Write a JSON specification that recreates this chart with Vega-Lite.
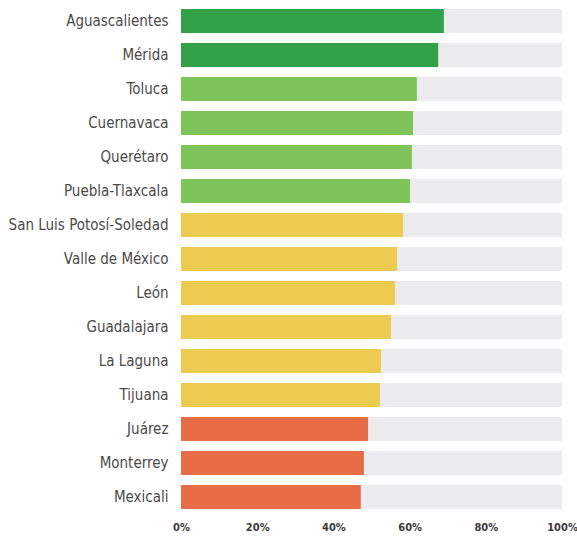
{
  "$schema": "https://vega.github.io/schema/vega-lite/v6.json",
  "width": 381,
  "height": 510,
  "autosize": {"type": "none"},
  "padding": {"left": 181, "top": 4, "right": 15, "bottom": 25},
  "background": "white",
  "config": {"view": {"stroke": null}},
  "data": {
    "values": [
      {"city": "Aguascalientes", "value": 0.690, "tier": "A"},
      {"city": "Mérida", "value": 0.675, "tier": "A"},
      {"city": "Toluca", "value": 0.619, "tier": "B"},
      {"city": "Cuernavaca", "value": 0.609, "tier": "B"},
      {"city": "Querétaro", "value": 0.606, "tier": "B"},
      {"city": "Puebla-Tlaxcala", "value": 0.601, "tier": "B"},
      {"city": "San Luis Potosí-Soledad", "value": 0.583, "tier": "C"},
      {"city": "Valle de México", "value": 0.567, "tier": "C"},
      {"city": "León", "value": 0.562, "tier": "C"},
      {"city": "Guadalajara", "value": 0.551, "tier": "C"},
      {"city": "La Laguna", "value": 0.525, "tier": "C"},
      {"city": "Tijuana", "value": 0.522, "tier": "C"},
      {"city": "Juárez", "value": 0.491, "tier": "D"},
      {"city": "Monterrey", "value": 0.480, "tier": "D"},
      {"city": "Mexicali", "value": 0.472, "tier": "D"}
    ]
  },
  "encoding": {
    "y": {
      "field": "city",
      "type": "nominal",
      "sort": null,
      "scale": {"paddingInner": 0.294, "paddingOuter": 0.147},
      "axis": {
        "title": null,
        "domain": false,
        "ticks": false,
        "labelPadding": 13,
        "labelFont": "DejaVu Sans Condensed, Liberation Sans Narrow, sans-serif",
        "labelFontSize": 15,
        "labelColor": "#4a4a4a",
        "labelLimit": 300
      }
    }
  },
  "layer": [
    {
      "mark": {"type": "bar", "color": "#ebebed"},
      "encoding": {
        "x": {
          "datum": 1,
          "type": "quantitative",
          "scale": {"domain": [0, 1]},
          "axis": {
            "title": null,
            "format": "%",
            "values": [0, 0.2, 0.4, 0.6, 0.8, 1],
            "domain": false,
            "ticks": false,
            "grid": false,
            "labelPadding": 7,
            "labelFont": "DejaVu Sans Condensed, Liberation Sans Narrow, sans-serif",
            "labelFontWeight": "bold",
            "labelFontSize": 11,
            "labelColor": "#3a3a3a",
            "labelFlush": false
          }
        }
      }
    },
    {
      "mark": {"type": "bar"},
      "encoding": {
        "x": {"field": "value", "type": "quantitative"},
        "color": {
          "field": "tier",
          "type": "nominal",
          "scale": {"domain": ["A", "B", "C", "D"], "range": ["#33a04a", "#7fc45b", "#edca50", "#e76c46"]},
          "legend": null
        }
      }
    }
  ]
}
